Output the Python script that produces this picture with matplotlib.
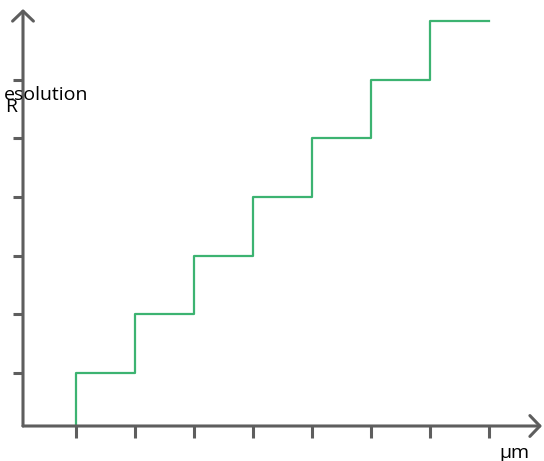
import numpy as np
import matplotlib.pyplot as plt

# step levels of resolution vs position
edges = [1, 2, 3, 4, 5, 6, 7, 8]
levels = [1, 2, 3, 4, 5, 6, 7]
xticks = [1, 2, 3, 4, 5, 6, 7, 8]
yticks = [1, 2, 3, 4, 5, 6]

W, H = 544, 461
fig = plt.figure(figsize=(W / 100, H / 100), dpi=100)
# axes box: left at the y axis line, bottom at the x axis line, right/top at arrow tips
ax = fig.add_axes([23 / W, (H - 426) / H, (542 - 23) / W, (426 - 9) / H])

x0 = (23 - 17) / 59
x1 = (542 - 17) / 59
y0 = (431.7 - 426) / 58.67
y1 = (431.7 - 9) / 58.67
ax.set_xlim(x0, x1)
ax.set_ylim(y0, y1)

axis_col = '#5e5e5e'
green = '#3cb371'

xs = [edges[0]] + edges
ys = [y0] + levels + [levels[-1]]
ax.step(xs, ys, where='post', color=green, lw=1.6, clip_on=False)

for s in ax.spines.values():
    s.set_visible(False)

arrow = dict(arrowstyle='->,head_length=0.72,head_width=0.75', color=axis_col,
             lw=2.2, mutation_scale=10, shrinkA=0, shrinkB=0)
ax.annotate('', xy=(1, 0), xytext=(0, 0), xycoords='axes fraction',
            arrowprops=arrow, annotation_clip=False)
ax.annotate('', xy=(0, 1), xytext=(0, 0), xycoords='axes fraction',
            arrowprops=arrow, annotation_clip=False)

ax.set_xticks(xticks)
ax.set_yticks(yticks)
ax.set_xticklabels([])
ax.set_yticklabels([])
ax.tick_params(axis='x', direction='out', length=8.5, width=2.2, color=axis_col)
ax.tick_params(axis='y', direction='out', length=7, width=2.2, color=axis_col)

font = dict(family='Open Sans', fontsize=14, color='black', va='baseline', ha='left')
fig.text(4 / W, (H - 100) / H, 'esolution', **font)
fig.text(5 / W, (H - 112) / H, 'R', **font)
fig.text(499 / W, (H - 458) / H, 'µm', **font)

fig.savefig('out.png', dpi=100)
